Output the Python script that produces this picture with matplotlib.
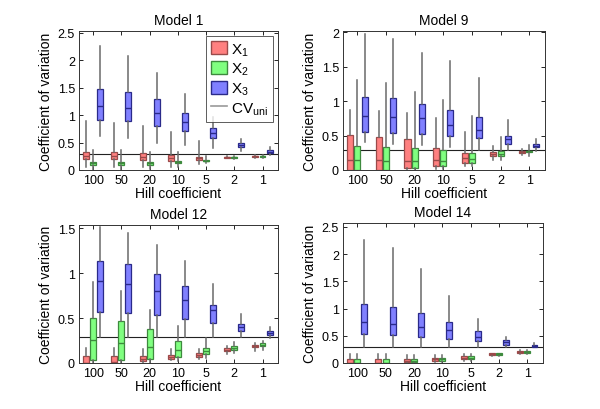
import matplotlib
matplotlib.use("Agg")
import matplotlib.pyplot as plt
from matplotlib.patches import Patch
from matplotlib.lines import Line2D
from matplotlib.ticker import FuncFormatter

plt.rcParams['font.family'] = ['Liberation Sans', 'DejaVu Sans']
plt.rcParams['mathtext.fontset'] = 'custom'
plt.rcParams['mathtext.rm'] = 'Liberation Sans'

hill_labels = ['100', '50', '20', '10', '5', '2', '1']
series_names = ['X$_1$', 'X$_2$', 'X$_3$']
cv_uni = 0.29

# each entry: [whisker low, q1, median, q3, whisker high]
m1_x1 = [[0.05, 0.195, 0.255, 0.32, 0.89], [0.05, 0.2, 0.25, 0.33, 0.86], [0.05, 0.18, 0.24, 0.30, 0.80],
         [0.06, 0.17, 0.215, 0.265, 0.70], [0.10, 0.18, 0.21, 0.24, 0.53], [0.21, 0.22, 0.23, 0.24, 0.26],
         [0.22, 0.24, 0.25, 0.26, 0.28]]
m1_x2 = [[0.0, 0.09, 0.12, 0.15, 0.37], [0.0, 0.09, 0.12, 0.15, 0.37], [0.02, 0.09, 0.12, 0.15, 0.33],
         [0.06, 0.12, 0.14, 0.16, 0.32], [0.12, 0.16, 0.17, 0.18, 0.25], [0.20, 0.22, 0.23, 0.24, 0.26],
         [0.22, 0.245, 0.25, 0.26, 0.28]]
m1_x3 = [[0.62, 0.91, 1.165, 1.48, 2.26], [0.59, 0.89, 1.135, 1.42, 2.07], [0.50, 0.80, 1.045, 1.29, 1.77],
         [0.45, 0.71, 0.87, 1.045, 1.38], [0.40, 0.58, 0.68, 0.77, 0.97], [0.34, 0.41, 0.45, 0.49, 0.57],
         [0.28, 0.31, 0.335, 0.36, 0.42]]

m9_x1 = [[0.0, 0.0, 0.145, 0.515, 0.87], [0.0, 0.0, 0.14, 0.485, 0.85], [0.0, 0.03, 0.13, 0.45, 0.825],
         [0.02, 0.06, 0.14, 0.32, 0.76], [0.06, 0.10, 0.175, 0.24, 0.55], [0.15, 0.20, 0.225, 0.26, 0.345],
         [0.22, 0.245, 0.265, 0.28, 0.30]]
m9_x2 = [[0.0, 0.0, 0.145, 0.345, 1.31], [0.0, 0.0, 0.13, 0.33, 1.26], [0.0, 0.03, 0.125, 0.32, 1.13],
         [0.02, 0.06, 0.13, 0.29, 1.01], [0.06, 0.10, 0.16, 0.25, 0.79], [0.14, 0.21, 0.235, 0.27, 0.475],
         [0.20, 0.255, 0.27, 0.28, 0.37]]
m9_x3 = [[0.40, 0.545, 0.78, 1.06, 1.97], [0.38, 0.535, 0.775, 1.04, 1.90], [0.37, 0.525, 0.75, 0.955, 1.70],
         [0.34, 0.495, 0.66, 0.865, 1.59], [0.29, 0.46, 0.58, 0.77, 1.33], [0.29, 0.38, 0.445, 0.50, 0.72],
         [0.27, 0.33, 0.355, 0.38, 0.45]]

m12_x1 = [[0.0, 0.0, 0.005, 0.08, 0.17], [0.0, 0.0, 0.01, 0.075, 0.17], [0.0, 0.025, 0.05, 0.075, 0.155],
          [0.03, 0.05, 0.065, 0.09, 0.155], [0.05, 0.065, 0.09, 0.11, 0.155], [0.10, 0.13, 0.145, 0.17, 0.19],
          [0.13, 0.175, 0.19, 0.20, 0.22]]
m12_x2 = [[0.0, 0.03, 0.26, 0.505, 0.90], [0.0, 0.035, 0.22, 0.47, 0.80], [0.0, 0.045, 0.18, 0.38, 0.585],
          [0.02, 0.067, 0.15, 0.25, 0.41], [0.06, 0.10, 0.135, 0.165, 0.28], [0.11, 0.145, 0.165, 0.19, 0.23],
          [0.15, 0.185, 0.205, 0.225, 0.25]]
m12_x3 = [[0.29, 0.565, 0.91, 1.135, 1.51], [0.29, 0.555, 0.88, 1.10, 1.45], [0.29, 0.53, 0.805, 0.995, 1.31],
          [0.29, 0.49, 0.705, 0.855, 1.14], [0.29, 0.445, 0.585, 0.645, 0.875], [0.29, 0.36, 0.40, 0.435, 0.54],
          [0.28, 0.315, 0.335, 0.355, 0.405]]

m14_x1 = [[0.0, 0.0, 0.005, 0.065, 0.17], [0.0, 0.0, 0.005, 0.065, 0.17], [0.0, 0.025, 0.045, 0.065, 0.15],
          [0.02, 0.04, 0.065, 0.09, 0.15], [0.04, 0.065, 0.10, 0.13, 0.17], [0.12, 0.14, 0.16, 0.185, 0.19],
          [0.17, 0.185, 0.20, 0.22, 0.23]]
m14_x2 = [[0.0, 0.0, 0.005, 0.065, 0.17], [0.0, 0.0, 0.005, 0.065, 0.17], [0.0, 0.02, 0.045, 0.065, 0.15],
          [0.02, 0.04, 0.065, 0.09, 0.15], [0.04, 0.065, 0.095, 0.125, 0.17], [0.12, 0.14, 0.16, 0.18, 0.19],
          [0.17, 0.19, 0.20, 0.215, 0.23]]
m14_x3 = [[0.29, 0.525, 0.75, 1.08, 2.27], [0.29, 0.515, 0.72, 1.03, 2.11], [0.29, 0.475, 0.66, 0.91, 1.72],
          [0.29, 0.435, 0.60, 0.75, 1.24], [0.29, 0.40, 0.48, 0.59, 0.81], [0.29, 0.34, 0.385, 0.415, 0.48],
          [0.29, 0.30, 0.32, 0.34, 0.37]]

models = [
    ('Model 1', [m1_x1, m1_x2, m1_x3], 2.53, [0, 0.5, 1, 1.5, 2, 2.5], [0.1317, 0.583, 0.3317, 0.339]),
    ('Model 9', [m9_x1, m9_x2, m9_x3], 2.02, [0, 0.5, 1, 1.5, 2], [0.5717, 0.583, 0.3367, 0.339]),
    ('Model 12', [m12_x1, m12_x2, m12_x3], 1.535, [0, 0.5, 1, 1.5], [0.1317, 0.1122, 0.3317, 0.3366]),
    ('Model 14', [m14_x1, m14_x2, m14_x3], 2.57, [0, 0.5, 1, 1.5, 2, 2.5], [0.5717, 0.1122, 0.3333, 0.341]),
]

fills = ['#FF8080', '#80FF80', '#8080FF']
edges = ['#9A4A4A', '#3E8A3E', '#2A2A8A']
offsets = [-0.25, 0.0, 0.25]
box_w = 0.21

fig = plt.figure(figsize=(6.0, 4.1), dpi=100)

fmt = FuncFormatter(lambda v, p: ('%g' % v))

for title, series, ytop, yticks, rect in models:
    ax = fig.add_axes(rect)
    ax.axhline(cv_uni, color='#222222', lw=0.8, zorder=1)
    for s, data in enumerate(series):
        stats = []
        for vals in data:
            lo, q1, med, q3, hi = vals
            stats.append(dict(whislo=lo, q1=q1, med=med, q3=q3, whishi=hi, fliers=[]))
        pos = [i + 1 + offsets[s] for i in range(len(data))]
        ax.bxp(stats, positions=pos, widths=box_w, patch_artist=True, showcaps=False,
               showfliers=False, manage_ticks=False,
               boxprops=dict(facecolor=fills[s], edgecolor=edges[s], linewidth=0.9),
               whiskerprops=dict(color='#6a6a6a', linewidth=1.1),
               medianprops=dict(color=edges[s], linewidth=1.0),
               zorder=2)
    ax.set_xlim(0.5, 7.55)
    ax.set_ylim(0, ytop)
    ax.set_yticks(yticks)
    ax.yaxis.set_major_formatter(fmt)
    ax.set_xticks(range(1, 8))
    ax.set_xticklabels(hill_labels)
    ax.tick_params(direction='in', top=True, right=True, length=3, width=0.6,
                   labelsize=9, pad=3)
    for sp in ax.spines.values():
        sp.set_linewidth(0.7)
        sp.set_color('#333333')
    ax.set_title(title, fontsize=10, pad=5)
    ax.set_xlabel('Hill coefficient', fontsize=10, labelpad=0)
    ax.set_ylabel('Coefficient of variation', fontsize=10, labelpad=3)
    if title == 'Model 1':
        handles = [Patch(facecolor=fills[k], edgecolor=edges[k], label=series_names[k]) for k in range(3)]
        handles.append(Line2D([0], [0], color='#999999', lw=1.2, label='CV$_{\\mathregular{uni}}$'))
        leg = ax.legend(handles=handles, loc='upper right', fontsize=11, frameon=True, fancybox=False,
                        edgecolor='#333333', borderpad=0.35, handlelength=1.0, handleheight=0.95,
                        handletextpad=0.3, labelspacing=0.2, borderaxespad=0.3)
        leg.get_frame().set_linewidth(0.7)

fig.savefig('out.png', dpi=100)
